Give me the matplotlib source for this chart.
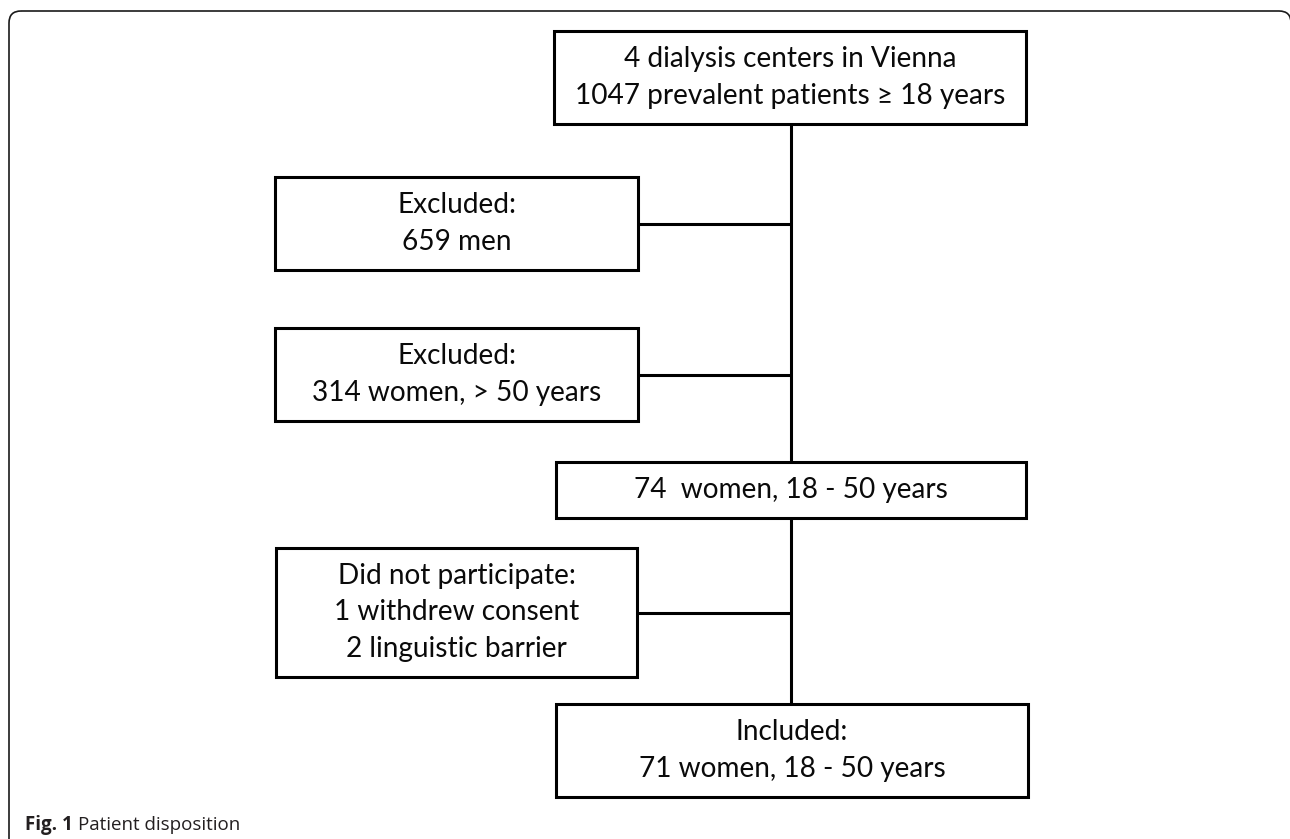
import matplotlib
matplotlib.use("Agg")
import matplotlib.pyplot as plt
from matplotlib.patches import FancyBboxPatch, Rectangle

# ---- data: flowchart box texts ----
top_lines = ["4 dialysis centers in Vienna", "1047 prevalent patients \u2265 18 years"]
excl1_lines = ["Excluded:", "659 men"]
excl2_lines = ["Excluded:", "314 women, > 50 years"]
mid_lines = ["74  women, 18 - 50 years"]
nopart_lines = ["Did not participate:", "1 withdrew consent", "2 linguistic barrier"]
incl_lines = ["Included:", "71 women, 18 - 50 years"]
caption_bold = "Fig. 1"
caption_text = "Patient disposition"

W, H = 1290, 839
fig = plt.figure(figsize=(W / 100, H / 100), dpi=100)
ax = fig.add_axes([0, 0, 1, 1])
ax.set_xlim(0, W)
ax.set_ylim(H, 0)
ax.axis("off")

FONT = "Lato"
FS = 20.2
LSP = 36.5
LW = 2.2

# outer rounded frame (right and bottom cut by figure edge)
frame = FancyBboxPatch((9, 11), 1282, 900, boxstyle="round,pad=0,rounding_size=12",
                       fill=False, ec="#1a1a1a", lw=1.2, zorder=1)
ax.add_patch(frame)


def box(x0, y0, x1, y1, lines):
    ax.add_patch(Rectangle((x0, y0), x1 - x0, y1 - y0, fill=True, fc="white",
                           ec="black", lw=LW, zorder=3))
    cx = (x0 + x1) / 2
    cy = (y0 + y1) / 2
    n = len(lines)
    for i, t in enumerate(lines):
        y = cy + (i - (n - 1) / 2) * LSP
        ax.text(cx, y, t, ha="center", va="center", fontsize=FS,
                family=[FONT, "DejaVu Sans"], color="#0a0a0a", zorder=4)


# spine lines
cxl = 791
ax.plot([cxl, cxl], [124, 462], color="black", lw=LW, zorder=2, solid_capstyle="butt")
ax.plot([cxl, cxl], [518, 705], color="black", lw=LW, zorder=2, solid_capstyle="butt")
for y in (223.5, 375, 612.5):
    ax.plot([637, cxl], [y, y], color="black", lw=LW, zorder=2, solid_capstyle="butt")

box(554, 31, 1026, 124, top_lines)
box(275, 177, 638, 270, excl1_lines)
box(275, 328, 638, 421, excl2_lines)
box(556, 462, 1026, 518, mid_lines)
box(276, 548, 637, 677, nopart_lines)
box(556, 704, 1028, 797, incl_lines)

# caption
t1 = ax.text(25, 825, caption_bold + " ", ha="left", va="center", fontsize=13.5,
             family="Open Sans", fontweight="bold", color="#231f20")
fig.canvas.draw()
bb = t1.get_window_extent()
inv = ax.transData.inverted()
xd, _ = inv.transform((bb.x1, 0))
ax.text(xd, 825, caption_text, ha="left", va="center", fontsize=13.5,
        family="Open Sans", color="#231f20")

fig.savefig("out.png", dpi=100, facecolor="white")
